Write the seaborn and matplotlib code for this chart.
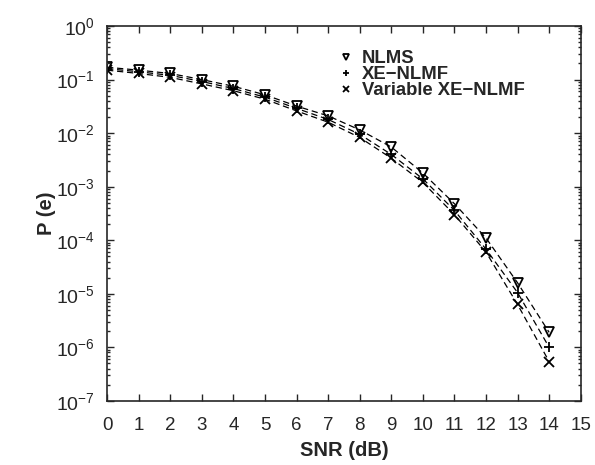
import numpy as np
import pandas as pd
import seaborn as sns
import matplotlib.pyplot as plt
from matplotlib.lines import Line2D

# data
snr = list(range(0, 15))
nlms = [0.17, 0.15, 0.13, 0.10, 0.075, 0.052, 0.032, 0.021, 0.0115, 5.5e-3,
        1.8e-3, 4.8e-4, 1.1e-4, 1.6e-5, 1.9e-6]
xe_nlmf = [0.16, 0.14, 0.12, 0.092, 0.068, 0.047, 0.029, 0.018, 9.5e-3, 4.0e-3,
           1.4e-3, 3.6e-4, 6.8e-5, 1.05e-5, 1.0e-6]
var_xe_nlmf = [0.15, 0.13, 0.11, 0.083, 0.062, 0.043, 0.026, 0.016, 8.3e-3, 3.4e-3,
               1.2e-3, 3.0e-4, 6.0e-5, 6.3e-6, 5.4e-7]

series_names = ['NLMS', 'XE\u2212NLMF', 'Variable XE\u2212NLMF']
series_values = [nlms, xe_nlmf, var_xe_nlmf]
markers = ['v', '+', 'x']

sns.set_style('ticks')
plt.rcParams['font.family'] = ['Liberation Sans', 'DejaVu Sans']

fig = plt.figure(figsize=(5.95, 4.65), dpi=100)
ax = fig.add_axes([0.180, 0.138, 0.796, 0.806])

for name, vals, m in zip(series_names, series_values, markers):
    df = pd.DataFrame({'SNR': snr, 'P': vals})
    open_face = 'none' if m == 'v' else 'k'
    sns.lineplot(data=df, x='SNR', y='P', ax=ax, color='k',
                 linestyle=(0, (5, 3)), linewidth=0.9,
                 marker=m, markersize=6.5, markerfacecolor=open_face,
                 markeredgecolor='k', markeredgewidth=1.3)

ax.set_yscale('log')
ax.set_xlim(0, 15)
ax.set_ylim(1e-7, 1)
ax.set_xticks(range(0, 16))
ax.set_yticks([10.0 ** k for k in range(-7, 1)])
ax.tick_params(which='both', direction='in', top=True, right=True, width=1)
ax.tick_params(which='major', length=5)
ax.tick_params(which='minor', length=2.5)
ax.tick_params(axis='x', labelsize=13.5, pad=12)
ax.tick_params(axis='y', labelsize=14, pad=9)
for s in ax.spines.values():
    s.set_linewidth(1.2)

ax.set_xlabel('SNR (dB)', fontsize=14.5, fontweight='bold', labelpad=5)
ax.set_ylabel('P (e)', fontsize=14.5, fontweight='bold', labelpad=0)

handles = [Line2D([], [], color='k', linestyle='none', marker=m,
                  markersize=5, markerfacecolor='none' if m == 'v' else 'k',
                  markeredgewidth=1.3) for m in markers]
ax.legend(handles, series_names, loc='upper left',
          bbox_to_anchor=(0.47, 0.955), frameon=False,
          prop={'weight': 'bold', 'size': 13.3}, handlelength=1.0,
          handletextpad=0.35, labelspacing=-0.05, borderaxespad=0)

fig.savefig('out.png', dpi=100)
